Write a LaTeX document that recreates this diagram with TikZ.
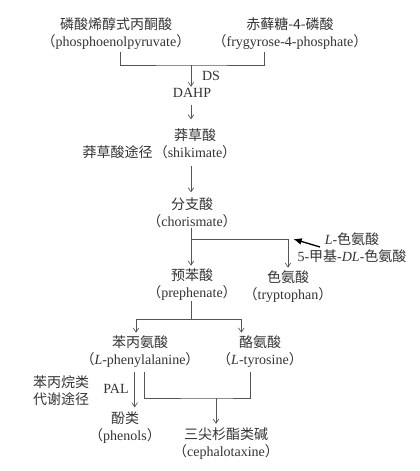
\documentclass[tikz,border=0pt]{standalone}
\usepackage{fontspec}
\setmainfont{Liberation Serif}
\newfontfamily\cjk{Noto Sans CJK SC}
\usetikzlibrary{arrows.meta}
\newcommand{\zh}[1]{{\cjk #1}}
\newcommand{\pn}[1]{{\cjk （}#1{\cjk ）}}
\definecolor{txt}{HTML}{333333}
\definecolor{ln}{HTML}{555555}

\begin{document}
\begin{tikzpicture}[x=0.75pt, y=-0.75pt, every node/.style={font=\fontsize{10.5}{12.75}\selectfont, text=txt, inner sep=0pt}, >={Straight Barb[length=1.1mm, width=1.5mm]}, nd/.style={align=center}, ln/.style={draw=ln, line width=0.5pt}, inh/.style={draw=black, line width=1pt, -{Latex[length=2.2mm, width=1.8mm]}}]
	\useasboundingbox (0,0) rectangle (419,471);
	% substrates
	\node[nd] (pep) at (116,33.5) {\zh{磷酸烯醇式丙酮酸}\\\pn{phosphoenolpyruvate}};
	\node[nd] (e4p) at (290,33.5) {\zh{赤藓糖-4-磷酸}\\\pn{frygyrose-4-phosphate}};
	\node (dahp) at (192,93) {DAHP};
	\node (ds) at (211,76) {DS};
	\node[nd] (shk) at (195,144) {\zh{莽草酸}\\\pn{shikimate}};
	\node[anchor=east] (shkp) at (153,152) {\zh{莽草酸途径}};
	\node[nd] (chor) at (192,213) {\zh{分支酸}\\\pn{chorismate}};
	\node[nd] (prep) at (192,284.5) {\zh{预苯酸}\\\pn{prephenate}};
	\node[nd] (trp) at (288,286.5) {\zh{色氨酸}\\\pn{tryptophan}};
	\node[nd] (fb) at (352,248) {\textit{L}-\zh{色氨酸}\\5-\zh{甲基}-\textit{DL}-\zh{色氨酸}};
	\node[nd] (phe) at (140,351.5) {\zh{苯丙氨酸}\\\pn{\textit{L}-phenylalanine}};
	\node[nd] (tyr) at (260,351.5) {\zh{酪氨酸}\\\pn{\textit{L}-tyrosine}};
	\node[nd] (ppp) at (61,390.5) {\zh{苯丙烷类}\\\zh{代谢途径}};
	\node (pal) at (116,389) {PAL};
	\node[nd] (phen) at (125,427.5) {\zh{酚类}\\\pn{phenols}};
	\node[nd] (ceph) at (226,444) {\zh{三尖杉酯类碱}\\\pn{cephalotaxine}};
	% junctions
	\coordinate (ax) at (191,0);
	\coordinate (j1) at (191,65);
	\coordinate (j2) at (191,239);
	\coordinate (j3) at (191,319);
	\coordinate (j4) at (216,398);
	\coordinate (fa) at (320,247);
	% connectors
	\draw[ln] ([xshift=3pt,yshift=-2pt]pep.south) |- (j1) -| ([xshift=-19pt,yshift=-2pt]e4p.south);
	\draw[ln,->,shorten >=1pt] (j1) -- (dahp.north -| ax);
	\draw[ln,->,shorten <=5pt,shorten >=7pt] (dahp.south -| ax) -- (shk.north -| ax);
	\draw[ln,->,shorten <=5pt,shorten >=4pt] (shk.south -| ax) -- (chor.north -| ax);
	\draw[ln] (chor.south -| ax) -- (j2) -- (j2 -| trp.north);
	\draw[ln,->,shorten >=2pt] (j2) -- (prep.north -| ax);
	\draw[ln,->,shorten >=2pt] (j2 -| trp.north) -- (trp.north);
	\draw[inh] (fa) -- ([xshift=4pt]j2 -| trp.north |- fa);
	\draw[ln] (prep.south -| ax) -- (j3);
	\draw[ln,->,shorten >=2pt] (j3) -| ([xshift=-3pt]phe.north);
	\draw[ln,->,shorten >=2pt] (j3) -| ([xshift=-14pt]tyr.north);
	\draw[ln,->,shorten <=3pt,shorten >=3pt] ([xshift=-4pt]phe.south) -- ([xshift=-4pt]phe.south |- phen.north);
	\draw[ln] ([xshift=3pt,yshift=-3pt]phe.south) |- (j4) -| ([xshift=-7pt,yshift=-3pt]tyr.south);
	\draw[ln,->,shorten >=3pt] (j4) -- (j4 |- ceph.north);
\end{tikzpicture}
\end{document}
